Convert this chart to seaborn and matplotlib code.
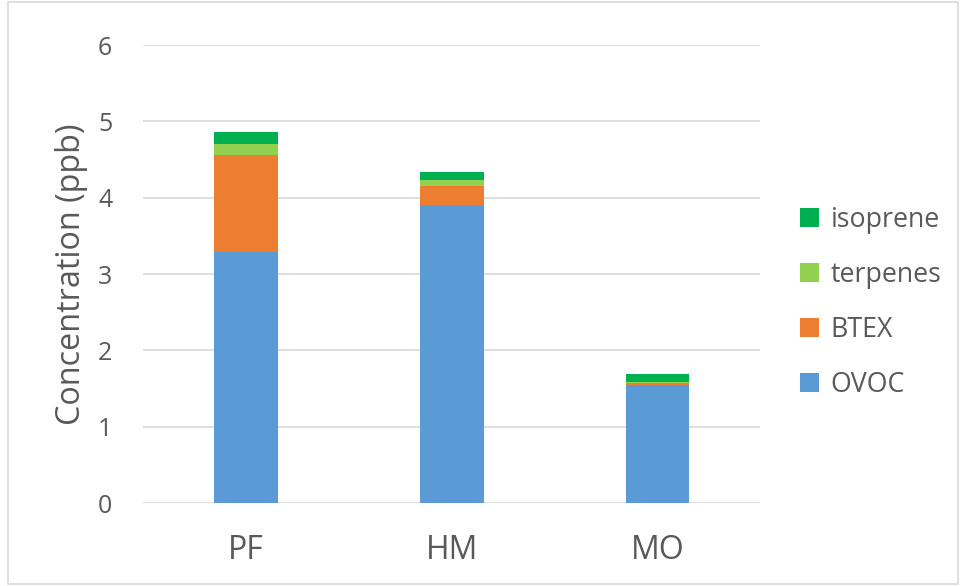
import numpy as np
import pandas as pd
import matplotlib.pyplot as plt
import seaborn as sns
from matplotlib.patches import Rectangle

# datos
sitios = ['PF', 'HM', 'MO']
ovoc = [3.29, 3.91, 1.55]
btex = [1.27, 0.25, 0.02]
terpenos = [0.15, 0.07, 0.01]
isopreno = [0.15, 0.11, 0.11]

series = ['OVOC', 'BTEX', 'terpenes', 'isoprene']
valores = [ovoc, btex, terpenos, isopreno]
colores = ['#5B9BD5', '#ED7D31', '#92D050', '#00B050']

sns.set_theme(style="white")
plt.rcParams['font.family'] = ['Open Sans', 'DejaVu Sans']
gris = '#595959'

fig = plt.figure(figsize=(9.65, 5.86), dpi=100)
ax = fig.add_axes([0.148, 0.1416, 0.64, 0.7814])

base = np.zeros(len(sitios))
for nombre, vals, col in zip(series, valores, colores):
    df = pd.DataFrame({'sitio': sitios, 'valor': vals})
    sns.barplot(data=df, x='sitio', y='valor', color=col, width=0.31,
                bottom=base, ax=ax, label=nombre, saturation=1, zorder=3,
                linewidth=0, edgecolor=col)
    base = base + np.array(vals)

ax.set_ylim(0, 6)
ax.set_xlim(-0.5, 2.5)
ax.set_yticks(range(0, 7))
ax.yaxis.grid(True, color='#D9D9D9', linewidth=1.2, zorder=0)
ax.set_axisbelow(True)
for s in ax.spines.values():
    s.set_visible(False)
ax.tick_params(axis='both', length=0, labelcolor=gris)
ax.tick_params(axis='y', pad=22, labelsize=18)
ax.tick_params(axis='x', pad=22, labelsize=23)
ax.set_xlabel('')
ax.set_ylabel('Concentration (ppb)', fontsize=23.3, color=gris, labelpad=7)

h, l = ax.get_legend_handles_labels()
leg = ax.legend(h[::-1], l[::-1], loc='center left', bbox_to_anchor=(1.025, 0.438),
                frameon=False, fontsize=19.3, labelspacing=1.0, handlelength=0.7,
                handleheight=0.7, handletextpad=0.45)
for t in leg.get_texts():
    t.set_color(gris)

fig.patches.append(Rectangle((0.008, 0.003), 0.985, 0.994, transform=fig.transFigure,
                             fill=False, edgecolor='#D9D9D9', linewidth=1.2))

plt.savefig('out.png', dpi=100)
plt.close()
